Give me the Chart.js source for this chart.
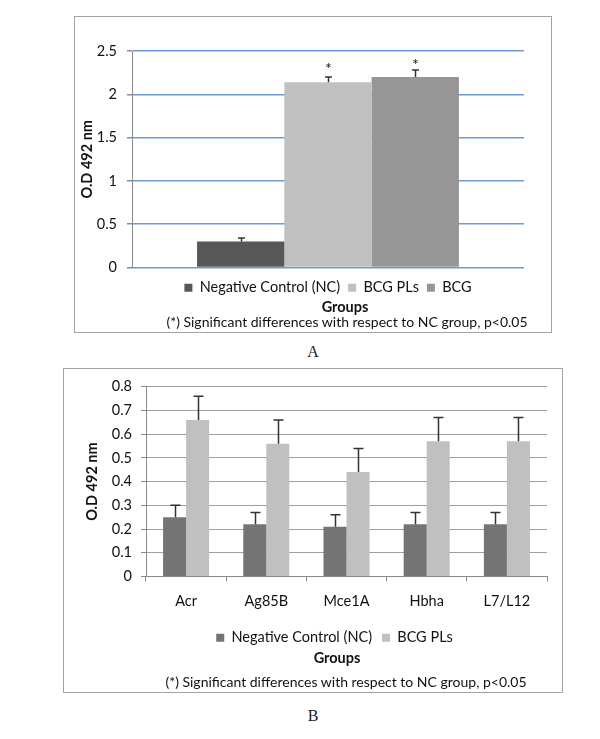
<!DOCTYPE html>
<html>
<head>
<meta charset="utf-8">
<script src="https://cdn.jsdelivr.net/npm/chart.js@4.4.1/dist/chart.umd.min.js"></script>
<style>
  html, body { margin: 0; padding: 0; background: #fff; }
  body { width: 600px; height: 739px; position: relative; overflow: hidden; font-family: Lato, "Open Sans", sans-serif; color: #111; }
  .box { position: absolute; border: 1px solid #a3a3a3; background: #fff; }
  .box canvas { display: block; }
  .txt { position: absolute; white-space: nowrap; transform: translate(-50%, -50%); line-height: 1; }
  .grp { font-weight: bold; font-size: 14.5px; }
  .note { font-size: 14px; }
  .lbl { font-family: "Liberation Serif", "DejaVu Serif", serif; font-size: 16px; color: #222; }
</style>
</head>
<body>
<div class="box" id="boxA" style="left:74px; top:16px; width:476px; height:315px;">
  <canvas id="chartA" width="476" height="315"></canvas>
</div>
<div class="txt grp" style="left:345px; top:307px;">Groups</div>
<div class="txt note" style="left:347px; top:322px;">(*) Significant differences with respect to NC group, p&lt;0.05</div>
<div class="txt lbl" style="left:313px; top:352px;">A</div>

<div class="box" id="boxB" style="left:63px; top:368px; width:498px; height:323px;">
  <canvas id="chartB" width="498" height="323"></canvas>
</div>
<div class="txt grp" style="left:337px; top:658px;">Groups</div>
<div class="txt note" style="left:346px; top:682px;">(*) Significant differences with respect to NC group, p&lt;0.05</div>
<div class="txt lbl" style="left:313px; top:716px;">B</div>

<script>
// ---------- Data: chart A ----------
const categoriesA = [''];
const seriesNamesA = ['Negative Control (NC)', 'BCG PLs', 'BCG'];
const valuesA = [0.30, 2.14, 2.20];
const errorsA = [0.04, 0.06, 0.08];
const marksA = ['', '*', '*'];
const yTicksA = [0, 0.5, 1, 1.5, 2, 2.5];

// ---------- Data: chart B ----------
const categoriesB = ['Acr', 'Ag85B', 'Mce1A', 'Hbha', 'L7/L12'];
const seriesNamesB = ['Negative Control (NC)', 'BCG PLs'];
const ncValuesB = [0.25, 0.22, 0.21, 0.22, 0.22];
const ncErrorsB = [0.05, 0.05, 0.05, 0.05, 0.05];
const plsValuesB = [0.66, 0.56, 0.44, 0.57, 0.57];
const plsErrorsB = [0.10, 0.10, 0.10, 0.10, 0.10];
const yTicksB = [0, 0.1, 0.2, 0.3, 0.4, 0.5, 0.6, 0.7, 0.8];

const FONT = 'Lato';
const TXT = '#111111';
const fmt = v => String(Math.round(v * 100) / 100);

const errorBarPlugin = {
  id: 'errbars',
  afterDatasetsDraw(chart, args, opts) {
    const ctx = chart.ctx;
    const ys = chart.scales.y;
    chart.data.datasets.forEach((ds, di) => {
      const meta = chart.getDatasetMeta(di);
      meta.data.forEach((el, i) => {
        const v = ds.data[i];
        const e = ds.errors ? ds.errors[i] : 0;
        const yt = ys.getPixelForValue(v + e);
        const x = Math.round(el.x) + 0.5;
        ctx.save();
        ctx.strokeStyle = opts.color;
        ctx.lineWidth = opts.width;
        ctx.beginPath();
        ctx.moveTo(x, el.y);
        ctx.lineTo(x, yt);
        ctx.moveTo(x - opts.cap / 2, yt);
        ctx.lineTo(x + opts.cap / 2, yt);
        ctx.stroke();
        if (ds.marks && ds.marks[i]) {
          ctx.fillStyle = TXT;
          ctx.font = '16px ' + FONT;
          ctx.textAlign = 'center';
          ctx.textBaseline = 'alphabetic';
          ctx.fillText(ds.marks[i], x, yt + 1 - (opts.markLift ? opts.markLift[di] : 0));
        }
        ctx.restore();
      });
    });
  }
};

// shifts the legend horizontally by a given number of pixels
const legendShiftPlugin = {
  id: 'legendShift',
  afterLayout(chart, args, opts) {
    const lg = chart.legend;
    if (lg && opts.dx) {
      lg.left += opts.dx;
      lg.right += opts.dx;
      if (lg.legendHitBoxes) lg.legendHitBoxes.forEach(h => { h.left += opts.dx; });
    }
  }
};

// ---------- Chart A ----------
const colorsA = ['#575757', '#c0c0c0', '#969696'];
new Chart(document.getElementById('chartA'), {
  type: 'bar',
  data: {
    labels: categoriesA,
    datasets: seriesNamesA.map((name, i) => ({
      label: name,
      data: [valuesA[i]],
      errors: [errorsA[i]],
      marks: [marksA[i]],
      backgroundColor: colorsA[i],
      borderWidth: 0,
      categoryPercentage: 0.668,
      barPercentage: 1.0
    }))
  },
  options: {
    responsive: false,
    animation: false,
    devicePixelRatio: 1,
    layout: { padding: { left: 0, right: 27, top: 34, bottom: 27 } },
    scales: {
      x: {
        grid: { display: false },
        border: { display: false },
        ticks: { display: false },
        afterFit(s) { s.height = 5; }
      },
      y: {
        min: 0, max: 2.5,
        afterBuildTicks(s) { s.ticks = yTicksA.map(v => ({ value: v })); },
        ticks: { font: { family: FONT, size: 14.5 }, color: TXT, padding: 10, callback: v => fmt(v) },
        grid: { color: '#6f9ad3', lineWidth: 1.5, tickColor: '#8a8a8a', tickLength: 5 },
        border: { display: true, color: '#8a8a8a', width: 1 },
        title: { display: true, text: 'O.D 492 nm', font: { family: FONT, size: 14.5, weight: 'bold' }, color: TXT, padding: { top: 4, bottom: 0 } },
        afterFit(s) { s.width = 57; }
      }
    },
    plugins: {
      legend: {
        position: 'bottom',
        fullSize: false,
        labels: { font: { family: FONT, size: 14.5 }, color: TXT, boxWidth: 8, boxHeight: 8, padding: 8 }
      },
      tooltip: { enabled: false },
      errbars: { color: '#333333', width: 1.5, cap: 7, markLift: [0, 4, 1] },
      legendShift: { dx: 0 }
    }
  },
  plugins: [errorBarPlugin, legendShiftPlugin]
});

// ---------- Chart B ----------
const colorsB = ['#747474', '#c0c0c0'];
const valsB = [ncValuesB, plsValuesB];
const errsB = [ncErrorsB, plsErrorsB];
new Chart(document.getElementById('chartB'), {
  type: 'bar',
  data: {
    labels: categoriesB,
    datasets: seriesNamesB.map((name, i) => ({
      label: name,
      data: valsB[i],
      errors: errsB[i],
      backgroundColor: colorsB[i],
      borderWidth: 0,
      categoryPercentage: 0.574,
      barPercentage: 1.0
    }))
  },
  options: {
    responsive: false,
    animation: false,
    devicePixelRatio: 1,
    layout: { padding: { left: 16, right: 15, top: 17, bottom: 37 } },
    scales: {
      x: {
        grid: { display: true, drawOnChartArea: false, offset: true, tickLength: 5, tickColor: '#8a8a8a' },
        border: { display: true, color: '#8a8a8a', width: 1 },
        ticks: { font: { family: FONT, size: 14.5 }, color: TXT, padding: 11 },
        afterFit(s) { s.height = 44; }
      },
      y: {
        min: 0, max: 0.8,
        afterBuildTicks(s) { s.ticks = yTicksB.map(v => ({ value: v })); },
        ticks: { font: { family: FONT, size: 14.5 }, color: TXT, padding: 9, callback: v => fmt(v) },
        grid: { color: '#9e9e9e', lineWidth: 1, tickColor: '#8a8a8a', tickLength: 5 },
        border: { display: true, color: '#8a8a8a', width: 1 },
        title: { display: true, text: 'O.D 492 nm', font: { family: FONT, size: 14.5, weight: 'bold' }, color: TXT, padding: { top: 4, bottom: 0 } },
        afterFit(s) { s.width = 66; }
      }
    },
    plugins: {
      legend: {
        position: 'bottom',
        fullSize: false,
        labels: { font: { family: FONT, size: 14.5 }, color: TXT, boxWidth: 8, boxHeight: 8, padding: 10 }
      },
      tooltip: { enabled: false },
      errbars: { color: '#333333', width: 1.5, cap: 10 },
      legendShift: { dx: -12 }
    }
  },
  plugins: [errorBarPlugin, legendShiftPlugin]
});
</script>
</body>
</html>
